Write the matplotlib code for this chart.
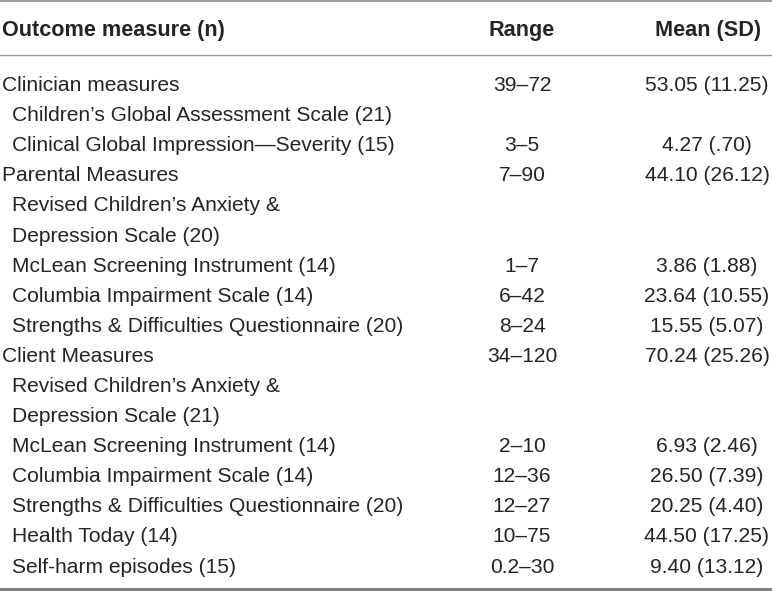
import matplotlib.pyplot as plt

# table content
labels = [
    "Clinician measures",
    "Children\u2019s Global Assessment Scale (21)",
    "Clinical Global Impression\u2014Severity (15)",
    "Parental Measures",
    "Revised Children\u2019s Anxiety &",
    "Depression Scale (20)",
    "McLean Screening Instrument (14)",
    "Columbia Impairment Scale (14)",
    "Strengths & Difficulties Questionnaire (20)",
    "Client Measures",
    "Revised Children\u2019s Anxiety &",
    "Depression Scale (21)",
    "McLean Screening Instrument (14)",
    "Columbia Impairment Scale (14)",
    "Strengths & Difficulties Questionnaire (20)",
    "Health Today (14)",
    "Self-harm episodes (15)",
]
indent = [0, 1, 1, 0, 1, 1, 1, 1, 1, 0, 1, 1, 1, 1, 1, 1, 1]
ranges = ["39\u201372", "", "3\u20135", "7\u201390", "", "", "1\u20137", "6\u201342", "8\u201324",
          "34\u2013120", "", "", "2\u201310", "12\u201336", "12\u201327", "10\u201375", "0.2\u201330"]
means = ["53.05 (11.25)", "", "4.27 (.70)", "44.10 (26.12)", "", "", "3.86 (1.88)",
         "23.64 (10.55)", "15.55 (5.07)", "70.24 (25.26)", "", "", "6.93 (2.46)",
         "26.50 (7.39)", "20.25 (4.40)", "44.50 (17.25)", "9.40 (13.12)"]
headers = ["Outcome measure (n)", "Range", "Mean (SD)"]

W, H = 772, 591
fig = plt.figure(figsize=(W / 100, H / 100), dpi=100)
ax = fig.add_axes([0, 0, 1, 1])
ax.set_xlim(0, W)
ax.set_ylim(H, 0)
ax.axis("off")

txt = "#262324"
fs = 15.1
hfs = 15.6
font = "Liberation Sans"

# rules
ax.axhline(1, color="#8a8a8a", lw=1.2)
ax.axhline(55, color="#9a9a9a", lw=1.0)
ax.axhline(589, color="#7a7a7a", lw=2.0)

# header
ax.text(2, 36, headers[0], fontsize=hfs, fontweight="bold", family=font, color=txt, va="baseline", ha="left")
ax.text(522, 36, headers[1], fontsize=hfs, fontweight="bold", family=font, color=txt, va="baseline", ha="center")
ax.text(708, 36, headers[2], fontsize=hfs, fontweight="bold", family=font, color=txt, va="baseline", ha="center")

# body
for i in range(len(labels)):
    y = 91 + i * 30.1
    x = 2 + 10 * indent[i]
    ax.text(x, y, labels[i], fontsize=fs, family=font, color=txt, va="baseline", ha="left")
    ax.text(522, y, ranges[i], fontsize=fs, family=font, color=txt, va="baseline", ha="center")
    ax.text(707, y, means[i], fontsize=fs, family=font, color=txt, va="baseline", ha="center")

fig.savefig("out.png", dpi=100)
